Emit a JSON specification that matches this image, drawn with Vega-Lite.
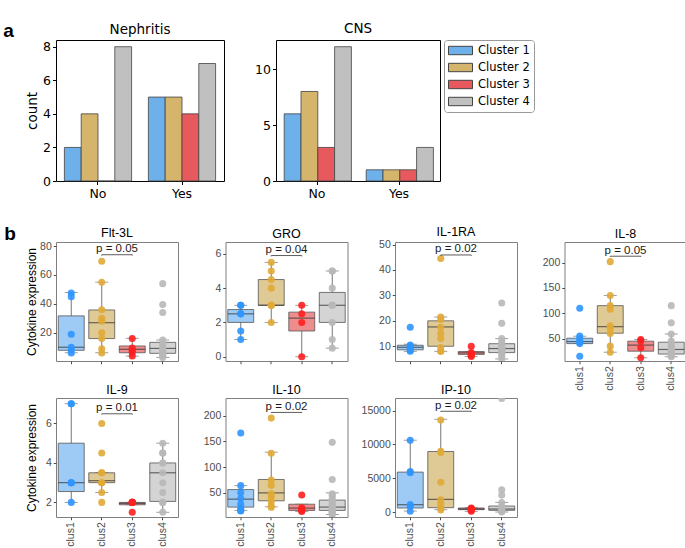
{
"$schema": "https://vega.github.io/schema/vega-lite/v6.json",
"background": "white",
"padding": {"left": 3, "top": 21, "right": 0, "bottom": 0},
"config": {
  "view": {"stroke": "#7f7f7f", "strokeWidth": 1},
  "axis": {"domain": false, "grid": false, "labelOverlap": false, "labelFont": "Liberation Sans", "labelFontSize": 10.5, "labelColor": "#4d4d4d", "tickColor": "#4d4d4d", "tickSize": 2.75, "labelPadding": 2, "titleFont": "Liberation Sans", "titleFontSize": 12, "titleFontWeight": "normal", "titleColor": "black", "titlePadding": 2},
  "axisX": {"labelAngle": -90},
  "title": {"font": "Liberation Sans", "fontSize": 12.5, "fontWeight": "normal", "color": "black", "offset": 1.5}
},
"datasets": {
  "bars": [
    {"var": "Nephritis", "grp": "No", "cluster": "Cluster 1", "count": 2},
    {"var": "Nephritis", "grp": "No", "cluster": "Cluster 2", "count": 4},
    {"var": "Nephritis", "grp": "No", "cluster": "Cluster 3", "count": 0},
    {"var": "Nephritis", "grp": "No", "cluster": "Cluster 4", "count": 8},
    {"var": "Nephritis", "grp": "Yes", "cluster": "Cluster 1", "count": 5},
    {"var": "Nephritis", "grp": "Yes", "cluster": "Cluster 2", "count": 5},
    {"var": "Nephritis", "grp": "Yes", "cluster": "Cluster 3", "count": 4},
    {"var": "Nephritis", "grp": "Yes", "cluster": "Cluster 4", "count": 7},
    {"var": "CNS", "grp": "No", "cluster": "Cluster 1", "count": 6},
    {"var": "CNS", "grp": "No", "cluster": "Cluster 2", "count": 8},
    {"var": "CNS", "grp": "No", "cluster": "Cluster 3", "count": 3},
    {"var": "CNS", "grp": "No", "cluster": "Cluster 4", "count": 12},
    {"var": "CNS", "grp": "Yes", "cluster": "Cluster 1", "count": 1},
    {"var": "CNS", "grp": "Yes", "cluster": "Cluster 2", "count": 1},
    {"var": "CNS", "grp": "Yes", "cluster": "Cluster 3", "count": 1},
    {"var": "CNS", "grp": "Yes", "cluster": "Cluster 4", "count": 3}
  ],
  "boxes": [
    {"panel": "Flt-3L", "cluster": "clus1", "lower": 6.2, "q1": 7.9, "median": 10, "q3": 31.7, "upper": 47.9},
    {"panel": "Flt-3L", "cluster": "clus2", "lower": 6.2, "q1": 16, "median": 27, "q3": 35.8, "upper": 55},
    {"panel": "Flt-3L", "cluster": "clus3", "lower": 3.9, "q1": 6.2, "median": 8.6, "q3": 10.9, "upper": 16.2},
    {"panel": "Flt-3L", "cluster": "clus4", "lower": 3, "q1": 5.8, "median": 9.2, "q3": 13.4, "upper": 15},
    {"panel": "GRO", "cluster": "clus1", "lower": 1, "q1": 2, "median": 2.5, "q3": 2.75, "upper": 3},
    {"panel": "GRO", "cluster": "clus2", "lower": 2, "q1": 3, "median": 3, "q3": 4.5, "upper": 5.5},
    {"panel": "GRO", "cluster": "clus3", "lower": 0, "q1": 1.5, "median": 2.25, "q3": 2.6, "upper": 3},
    {"panel": "GRO", "cluster": "clus4", "lower": 0.5, "q1": 2, "median": 3, "q3": 3.75, "upper": 5},
    {"panel": "IL-1RA", "cluster": "clus1", "lower": 8, "q1": 8.6, "median": 9.6, "q3": 10.4, "upper": 10.8},
    {"panel": "IL-1RA", "cluster": "clus2", "lower": 8, "q1": 10, "median": 17.6, "q3": 20, "upper": 21.5},
    {"panel": "IL-1RA", "cluster": "clus3", "lower": 6, "q1": 6.8, "median": 7.4, "q3": 7.9, "upper": 7.9},
    {"panel": "IL-1RA", "cluster": "clus4", "lower": 5, "q1": 7.5, "median": 9.1, "q3": 11, "upper": 13},
    {"panel": "IL-8", "cluster": "clus1", "lower": 40, "q1": 40, "median": 44, "q3": 50.6, "upper": 54.6},
    {"panel": "IL-8", "cluster": "clus2", "lower": 23, "q1": 60.5, "median": 73.5, "q3": 115, "upper": 135},
    {"panel": "IL-8", "cluster": "clus3", "lower": 12, "q1": 25, "median": 37, "q3": 44.8, "upper": 48},
    {"panel": "IL-8", "cluster": "clus4", "lower": 14, "q1": 19.3, "median": 28.4, "q3": 42.8, "upper": 59},
    {"panel": "IL-9", "cluster": "clus1", "lower": 2, "q1": 2.55, "median": 3, "q3": 5, "upper": 7},
    {"panel": "IL-9", "cluster": "clus2", "lower": 2.5, "q1": 3, "median": 3.1, "q3": 3.5, "upper": 3.5},
    {"panel": "IL-9", "cluster": "clus3", "lower": 1.88, "q1": 1.88, "median": 1.95, "q3": 2, "upper": 2},
    {"panel": "IL-9", "cluster": "clus4", "lower": 1.5, "q1": 2.05, "median": 3.5, "q3": 4, "upper": 5},
    {"panel": "IL-10", "cluster": "clus1", "lower": 16, "q1": 22.4, "median": 37.8, "q3": 56.4, "upper": 64},
    {"panel": "IL-10", "cluster": "clus2", "lower": 23, "q1": 34.6, "median": 50, "q3": 76, "upper": 129},
    {"panel": "IL-10", "cluster": "clus3", "lower": 14, "q1": 16, "median": 20.5, "q3": 28, "upper": 28},
    {"panel": "IL-10", "cluster": "clus4", "lower": 8, "q1": 16, "median": 22.4, "q3": 36, "upper": 50},
    {"panel": "IP-10", "cluster": "clus1", "lower": 148, "q1": 590, "median": 1082, "q3": 5904, "upper": 10627},
    {"panel": "IP-10", "cluster": "clus2", "lower": 344, "q1": 640, "median": 1870, "q3": 8954, "upper": 13727},
    {"panel": "IP-10", "cluster": "clus3", "lower": 100, "q1": 350, "median": 450, "q3": 590, "upper": 640},
    {"panel": "IP-10", "cluster": "clus4", "lower": 0, "q1": 246, "median": 443, "q3": 886, "upper": 1427}
  ],
  "points": [
    {"panel": "Flt-3L", "cluster": "clus1", "value": 47.5},
    {"panel": "Flt-3L", "cluster": "clus1", "value": 45},
    {"panel": "Flt-3L", "cluster": "clus1", "value": 19},
    {"panel": "Flt-3L", "cluster": "clus1", "value": 10},
    {"panel": "Flt-3L", "cluster": "clus1", "value": 8},
    {"panel": "Flt-3L", "cluster": "clus1", "value": 6},
    {"panel": "Flt-3L", "cluster": "clus2", "value": 69.5},
    {"panel": "Flt-3L", "cluster": "clus2", "value": 55},
    {"panel": "Flt-3L", "cluster": "clus2", "value": 36},
    {"panel": "Flt-3L", "cluster": "clus2", "value": 30},
    {"panel": "Flt-3L", "cluster": "clus2", "value": 28},
    {"panel": "Flt-3L", "cluster": "clus2", "value": 20},
    {"panel": "Flt-3L", "cluster": "clus2", "value": 16},
    {"panel": "Flt-3L", "cluster": "clus2", "value": 9},
    {"panel": "Flt-3L", "cluster": "clus2", "value": 6},
    {"panel": "Flt-3L", "cluster": "clus3", "value": 16},
    {"panel": "Flt-3L", "cluster": "clus3", "value": 9.5},
    {"panel": "Flt-3L", "cluster": "clus3", "value": 8},
    {"panel": "Flt-3L", "cluster": "clus3", "value": 6.5},
    {"panel": "Flt-3L", "cluster": "clus3", "value": 4},
    {"panel": "Flt-3L", "cluster": "clus4", "value": 54},
    {"panel": "Flt-3L", "cluster": "clus4", "value": 39.5},
    {"panel": "Flt-3L", "cluster": "clus4", "value": 34},
    {"panel": "Flt-3L", "cluster": "clus4", "value": 15},
    {"panel": "Flt-3L", "cluster": "clus4", "value": 12},
    {"panel": "Flt-3L", "cluster": "clus4", "value": 10},
    {"panel": "Flt-3L", "cluster": "clus4", "value": 9},
    {"panel": "Flt-3L", "cluster": "clus4", "value": 8},
    {"panel": "Flt-3L", "cluster": "clus4", "value": 7},
    {"panel": "Flt-3L", "cluster": "clus4", "value": 6},
    {"panel": "Flt-3L", "cluster": "clus4", "value": 5},
    {"panel": "Flt-3L", "cluster": "clus4", "value": 4},
    {"panel": "Flt-3L", "cluster": "clus4", "value": 3},
    {"panel": "GRO", "cluster": "clus1", "value": 3},
    {"panel": "GRO", "cluster": "clus1", "value": 3},
    {"panel": "GRO", "cluster": "clus1", "value": 2.5},
    {"panel": "GRO", "cluster": "clus1", "value": 2.5},
    {"panel": "GRO", "cluster": "clus1", "value": 1.5},
    {"panel": "GRO", "cluster": "clus1", "value": 1},
    {"panel": "GRO", "cluster": "clus2", "value": 5.5},
    {"panel": "GRO", "cluster": "clus2", "value": 5},
    {"panel": "GRO", "cluster": "clus2", "value": 4.5},
    {"panel": "GRO", "cluster": "clus2", "value": 4},
    {"panel": "GRO", "cluster": "clus2", "value": 3},
    {"panel": "GRO", "cluster": "clus2", "value": 3},
    {"panel": "GRO", "cluster": "clus2", "value": 3},
    {"panel": "GRO", "cluster": "clus2", "value": 2},
    {"panel": "GRO", "cluster": "clus3", "value": 3},
    {"panel": "GRO", "cluster": "clus3", "value": 2.5},
    {"panel": "GRO", "cluster": "clus3", "value": 2},
    {"panel": "GRO", "cluster": "clus3", "value": 0},
    {"panel": "GRO", "cluster": "clus4", "value": 5},
    {"panel": "GRO", "cluster": "clus4", "value": 5},
    {"panel": "GRO", "cluster": "clus4", "value": 4},
    {"panel": "GRO", "cluster": "clus4", "value": 3},
    {"panel": "GRO", "cluster": "clus4", "value": 3},
    {"panel": "GRO", "cluster": "clus4", "value": 3},
    {"panel": "GRO", "cluster": "clus4", "value": 2},
    {"panel": "GRO", "cluster": "clus4", "value": 1},
    {"panel": "GRO", "cluster": "clus4", "value": 0.5},
    {"panel": "IL-1RA", "cluster": "clus1", "value": 17.5},
    {"panel": "IL-1RA", "cluster": "clus1", "value": 10.5},
    {"panel": "IL-1RA", "cluster": "clus1", "value": 10},
    {"panel": "IL-1RA", "cluster": "clus1", "value": 9.5},
    {"panel": "IL-1RA", "cluster": "clus1", "value": 9},
    {"panel": "IL-1RA", "cluster": "clus1", "value": 8.5},
    {"panel": "IL-1RA", "cluster": "clus1", "value": 8},
    {"panel": "IL-1RA", "cluster": "clus2", "value": 44.5},
    {"panel": "IL-1RA", "cluster": "clus2", "value": 21.5},
    {"panel": "IL-1RA", "cluster": "clus2", "value": 20.5},
    {"panel": "IL-1RA", "cluster": "clus2", "value": 17.5},
    {"panel": "IL-1RA", "cluster": "clus2", "value": 15},
    {"panel": "IL-1RA", "cluster": "clus2", "value": 13},
    {"panel": "IL-1RA", "cluster": "clus2", "value": 9.5},
    {"panel": "IL-1RA", "cluster": "clus2", "value": 8},
    {"panel": "IL-1RA", "cluster": "clus2", "value": 8},
    {"panel": "IL-1RA", "cluster": "clus3", "value": 10},
    {"panel": "IL-1RA", "cluster": "clus3", "value": 7.5},
    {"panel": "IL-1RA", "cluster": "clus3", "value": 7},
    {"panel": "IL-1RA", "cluster": "clus3", "value": 6.5},
    {"panel": "IL-1RA", "cluster": "clus3", "value": 6},
    {"panel": "IL-1RA", "cluster": "clus4", "value": 27},
    {"panel": "IL-1RA", "cluster": "clus4", "value": 19},
    {"panel": "IL-1RA", "cluster": "clus4", "value": 13},
    {"panel": "IL-1RA", "cluster": "clus4", "value": 12},
    {"panel": "IL-1RA", "cluster": "clus4", "value": 11},
    {"panel": "IL-1RA", "cluster": "clus4", "value": 10},
    {"panel": "IL-1RA", "cluster": "clus4", "value": 9.5},
    {"panel": "IL-1RA", "cluster": "clus4", "value": 9},
    {"panel": "IL-1RA", "cluster": "clus4", "value": 8.5},
    {"panel": "IL-1RA", "cluster": "clus4", "value": 8},
    {"panel": "IL-1RA", "cluster": "clus4", "value": 7.5},
    {"panel": "IL-1RA", "cluster": "clus4", "value": 7},
    {"panel": "IL-1RA", "cluster": "clus4", "value": 6},
    {"panel": "IL-1RA", "cluster": "clus4", "value": 5},
    {"panel": "IL-8", "cluster": "clus1", "value": 110},
    {"panel": "IL-8", "cluster": "clus1", "value": 55},
    {"panel": "IL-8", "cluster": "clus1", "value": 50},
    {"panel": "IL-8", "cluster": "clus1", "value": 45},
    {"panel": "IL-8", "cluster": "clus1", "value": 42},
    {"panel": "IL-8", "cluster": "clus1", "value": 40},
    {"panel": "IL-8", "cluster": "clus1", "value": 15},
    {"panel": "IL-8", "cluster": "clus2", "value": 202},
    {"panel": "IL-8", "cluster": "clus2", "value": 135},
    {"panel": "IL-8", "cluster": "clus2", "value": 115},
    {"panel": "IL-8", "cluster": "clus2", "value": 108},
    {"panel": "IL-8", "cluster": "clus2", "value": 75},
    {"panel": "IL-8", "cluster": "clus2", "value": 70},
    {"panel": "IL-8", "cluster": "clus2", "value": 60},
    {"panel": "IL-8", "cluster": "clus2", "value": 35},
    {"panel": "IL-8", "cluster": "clus2", "value": 23},
    {"panel": "IL-8", "cluster": "clus3", "value": 48},
    {"panel": "IL-8", "cluster": "clus3", "value": 45},
    {"panel": "IL-8", "cluster": "clus3", "value": 32},
    {"panel": "IL-8", "cluster": "clus3", "value": 12},
    {"panel": "IL-8", "cluster": "clus4", "value": 115},
    {"panel": "IL-8", "cluster": "clus4", "value": 81},
    {"panel": "IL-8", "cluster": "clus4", "value": 59},
    {"panel": "IL-8", "cluster": "clus4", "value": 45},
    {"panel": "IL-8", "cluster": "clus4", "value": 40},
    {"panel": "IL-8", "cluster": "clus4", "value": 36},
    {"panel": "IL-8", "cluster": "clus4", "value": 32},
    {"panel": "IL-8", "cluster": "clus4", "value": 28},
    {"panel": "IL-8", "cluster": "clus4", "value": 25},
    {"panel": "IL-8", "cluster": "clus4", "value": 22},
    {"panel": "IL-8", "cluster": "clus4", "value": 20},
    {"panel": "IL-8", "cluster": "clus4", "value": 18},
    {"panel": "IL-8", "cluster": "clus4", "value": 16},
    {"panel": "IL-8", "cluster": "clus4", "value": 14},
    {"panel": "IL-9", "cluster": "clus1", "value": 7},
    {"panel": "IL-9", "cluster": "clus1", "value": 7},
    {"panel": "IL-9", "cluster": "clus1", "value": 3},
    {"panel": "IL-9", "cluster": "clus1", "value": 3},
    {"panel": "IL-9", "cluster": "clus1", "value": 3},
    {"panel": "IL-9", "cluster": "clus1", "value": 2},
    {"panel": "IL-9", "cluster": "clus2", "value": 6},
    {"panel": "IL-9", "cluster": "clus2", "value": 4.5},
    {"panel": "IL-9", "cluster": "clus2", "value": 3.5},
    {"panel": "IL-9", "cluster": "clus2", "value": 3.5},
    {"panel": "IL-9", "cluster": "clus2", "value": 3},
    {"panel": "IL-9", "cluster": "clus2", "value": 3},
    {"panel": "IL-9", "cluster": "clus2", "value": 2.5},
    {"panel": "IL-9", "cluster": "clus2", "value": 2},
    {"panel": "IL-9", "cluster": "clus3", "value": 2},
    {"panel": "IL-9", "cluster": "clus3", "value": 2},
    {"panel": "IL-9", "cluster": "clus3", "value": 2},
    {"panel": "IL-9", "cluster": "clus3", "value": 2},
    {"panel": "IL-9", "cluster": "clus3", "value": 1.5},
    {"panel": "IL-9", "cluster": "clus4", "value": 5},
    {"panel": "IL-9", "cluster": "clus4", "value": 4.5},
    {"panel": "IL-9", "cluster": "clus4", "value": 4.5},
    {"panel": "IL-9", "cluster": "clus4", "value": 4},
    {"panel": "IL-9", "cluster": "clus4", "value": 4},
    {"panel": "IL-9", "cluster": "clus4", "value": 3.5},
    {"panel": "IL-9", "cluster": "clus4", "value": 3},
    {"panel": "IL-9", "cluster": "clus4", "value": 2.5},
    {"panel": "IL-9", "cluster": "clus4", "value": 2},
    {"panel": "IL-9", "cluster": "clus4", "value": 2},
    {"panel": "IL-9", "cluster": "clus4", "value": 1.5},
    {"panel": "IL-10", "cluster": "clus1", "value": 166},
    {"panel": "IL-10", "cluster": "clus1", "value": 64},
    {"panel": "IL-10", "cluster": "clus1", "value": 50},
    {"panel": "IL-10", "cluster": "clus1", "value": 39},
    {"panel": "IL-10", "cluster": "clus1", "value": 28},
    {"panel": "IL-10", "cluster": "clus1", "value": 20},
    {"panel": "IL-10", "cluster": "clus1", "value": 16},
    {"panel": "IL-10", "cluster": "clus1", "value": 15},
    {"panel": "IL-10", "cluster": "clus2", "value": 195},
    {"panel": "IL-10", "cluster": "clus2", "value": 127},
    {"panel": "IL-10", "cluster": "clus2", "value": 75},
    {"panel": "IL-10", "cluster": "clus2", "value": 65},
    {"panel": "IL-10", "cluster": "clus2", "value": 48},
    {"panel": "IL-10", "cluster": "clus2", "value": 42},
    {"panel": "IL-10", "cluster": "clus2", "value": 33},
    {"panel": "IL-10", "cluster": "clus2", "value": 25},
    {"panel": "IL-10", "cluster": "clus2", "value": 22},
    {"panel": "IL-10", "cluster": "clus3", "value": 46},
    {"panel": "IL-10", "cluster": "clus3", "value": 21},
    {"panel": "IL-10", "cluster": "clus3", "value": 18},
    {"panel": "IL-10", "cluster": "clus3", "value": 16},
    {"panel": "IL-10", "cluster": "clus3", "value": 14},
    {"panel": "IL-10", "cluster": "clus4", "value": 148},
    {"panel": "IL-10", "cluster": "clus4", "value": 76},
    {"panel": "IL-10", "cluster": "clus4", "value": 48},
    {"panel": "IL-10", "cluster": "clus4", "value": 45},
    {"panel": "IL-10", "cluster": "clus4", "value": 40},
    {"panel": "IL-10", "cluster": "clus4", "value": 35},
    {"panel": "IL-10", "cluster": "clus4", "value": 30},
    {"panel": "IL-10", "cluster": "clus4", "value": 26},
    {"panel": "IL-10", "cluster": "clus4", "value": 24},
    {"panel": "IL-10", "cluster": "clus4", "value": 22},
    {"panel": "IL-10", "cluster": "clus4", "value": 20},
    {"panel": "IL-10", "cluster": "clus4", "value": 18},
    {"panel": "IL-10", "cluster": "clus4", "value": 16},
    {"panel": "IL-10", "cluster": "clus4", "value": 14},
    {"panel": "IL-10", "cluster": "clus4", "value": 12},
    {"panel": "IL-10", "cluster": "clus4", "value": 10},
    {"panel": "IL-10", "cluster": "clus4", "value": 8},
    {"panel": "IP-10", "cluster": "clus1", "value": 10600},
    {"panel": "IP-10", "cluster": "clus1", "value": 6000},
    {"panel": "IP-10", "cluster": "clus1", "value": 5800},
    {"panel": "IP-10", "cluster": "clus1", "value": 1100},
    {"panel": "IP-10", "cluster": "clus1", "value": 800},
    {"panel": "IP-10", "cluster": "clus1", "value": 100},
    {"panel": "IP-10", "cluster": "clus2", "value": 13600},
    {"panel": "IP-10", "cluster": "clus2", "value": 9000},
    {"panel": "IP-10", "cluster": "clus2", "value": 8800},
    {"panel": "IP-10", "cluster": "clus2", "value": 4400},
    {"panel": "IP-10", "cluster": "clus2", "value": 1800},
    {"panel": "IP-10", "cluster": "clus2", "value": 1200},
    {"panel": "IP-10", "cluster": "clus2", "value": 600},
    {"panel": "IP-10", "cluster": "clus2", "value": 300},
    {"panel": "IP-10", "cluster": "clus3", "value": 600},
    {"panel": "IP-10", "cluster": "clus3", "value": 500},
    {"panel": "IP-10", "cluster": "clus3", "value": 400},
    {"panel": "IP-10", "cluster": "clus3", "value": 300},
    {"panel": "IP-10", "cluster": "clus3", "value": 100},
    {"panel": "IP-10", "cluster": "clus4", "value": 16800},
    {"panel": "IP-10", "cluster": "clus4", "value": 3300},
    {"panel": "IP-10", "cluster": "clus4", "value": 2500},
    {"panel": "IP-10", "cluster": "clus4", "value": 1400},
    {"panel": "IP-10", "cluster": "clus4", "value": 800},
    {"panel": "IP-10", "cluster": "clus4", "value": 600},
    {"panel": "IP-10", "cluster": "clus4", "value": 400},
    {"panel": "IP-10", "cluster": "clus4", "value": 300},
    {"panel": "IP-10", "cluster": "clus4", "value": 200},
    {"panel": "IP-10", "cluster": "clus4", "value": 100},
    {"panel": "IP-10", "cluster": "clus4", "value": 0}
  ],
  "pvals": [
    {"panel": "Flt-3L", "label": "p = 0.05", "c1": "clus2", "c2": "clus3", "y": 74, "ylo": 73.4},
    {"panel": "GRO", "label": "p = 0.04", "c1": "clus2", "c2": "clus3", "y": 5.9, "ylo": 5.85},
    {"panel": "IL-1RA", "label": "p = 0.02", "c1": "clus2", "c2": "clus3", "y": 45.9, "ylo": 45.6},
    {"panel": "IL-8", "label": "p = 0.05", "c1": "clus2", "c2": "clus3", "y": 212.7, "ylo": 211.3},
    {"panel": "IL-9", "label": "p = 0.01", "c1": "clus2", "c2": "clus3", "y": 6.49, "ylo": 6.45},
    {"panel": "IL-10", "label": "p = 0.02", "c1": "clus2", "c2": "clus3", "y": 206, "ylo": 204.7},
    {"panel": "IP-10", "label": "p = 0.02", "c1": "clus2", "c2": "clus3", "y": 14908, "ylo": 14810}
  ]
},
"resolve": {"scale": {"color": "independent", "fill": "independent"}},
"spacing": 25,
"vconcat": [
  {
    "title": {"text": "a", "orient": "left", "anchor": "end", "angle": 0, "align": "right", "baseline": "top", "font": "Liberation Sans", "fontSize": 19, "fontWeight": "bold", "color": "black", "offset": 0},
    "spacing": 28,
    "resolve": {"legend": {"color": "independent"}},
    "hconcat": [
      {
        "width": 168, "height": 141,
        "view": {"stroke": "black", "strokeWidth": 1},
        "title": {"text": "Nephritis", "font": "DejaVu Sans", "fontSize": 13.5, "offset": 4},
        "data": {"name": "bars"},
        "transform": [{"filter": "datum.var === 'Nephritis'"}],
        "mark": {"type": "bar", "stroke": "#444444", "strokeWidth": 1, "strokeOpacity": 0.8},
        "encoding": {
          "x": {"field": "grp", "type": "nominal", "title": null, "scale": {"domain": ["No", "Yes"], "paddingInner": 0.2, "paddingOuter": 0.1}, "axis": {"labelAngle": 0, "labelFont": "DejaVu Sans", "labelFontSize": 12.5, "labelColor": "black", "tickColor": "black", "tickSize": 3.5, "labelPadding": 2.5}},
          "xOffset": {"field": "cluster", "type": "nominal", "scale": {"domain": ["Cluster 1", "Cluster 2", "Cluster 3", "Cluster 4"], "paddingInner": 0, "paddingOuter": 0}},
          "y": {"field": "count", "type": "quantitative", "scale": {"domain": [0, 8.4], "nice": false}, "axis": {"values": [0, 2, 4, 6, 8], "tickCount": 10, "format": "d", "title": "count", "minExtent": 13, "maxExtent": 13, "labelFont": "DejaVu Sans", "labelFontSize": 12.5, "labelColor": "black", "tickColor": "black", "tickSize": 3.5, "labelPadding": 2, "titleFont": "DejaVu Sans", "titleFontSize": 13.5, "titleColor": "black", "titlePadding": 4}},
          "color": {"field": "cluster", "type": "nominal", "scale": {"domain": ["Cluster 1", "Cluster 2", "Cluster 3", "Cluster 4"], "range": ["#6EB1EA", "#D5B56B", "#E8595D", "#C0C0C0"]}, "legend": null}
        }
      },
      {
        "width": 164, "height": 141,
        "view": {"stroke": "black", "strokeWidth": 1},
        "title": {"text": "CNS", "font": "DejaVu Sans", "fontSize": 13.5, "offset": 4},
        "data": {"name": "bars"},
        "transform": [{"filter": "datum.var === 'CNS'"}],
        "mark": {"type": "bar", "stroke": "#444444", "strokeWidth": 1, "strokeOpacity": 0.8},
        "encoding": {
          "x": {"field": "grp", "type": "nominal", "title": null, "scale": {"domain": ["No", "Yes"], "paddingInner": 0.2, "paddingOuter": 0.1}, "axis": {"labelAngle": 0, "labelFont": "DejaVu Sans", "labelFontSize": 12.5, "labelColor": "black", "tickColor": "black", "tickSize": 3.5, "labelPadding": 2.5}},
          "xOffset": {"field": "cluster", "type": "nominal", "scale": {"domain": ["Cluster 1", "Cluster 2", "Cluster 3", "Cluster 4"], "paddingInner": 0, "paddingOuter": 0}},
          "y": {"field": "count", "type": "quantitative", "scale": {"domain": [0, 12.6], "nice": false}, "axis": {"values": [0, 5, 10], "tickCount": 10, "format": "d", "title": null, "minExtent": 22, "maxExtent": 22, "labelFont": "DejaVu Sans", "labelFontSize": 12.5, "labelColor": "black", "tickColor": "black", "tickSize": 3.5, "labelPadding": 2}},
          "color": {"field": "cluster", "type": "nominal", "scale": {"domain": ["Cluster 1", "Cluster 2", "Cluster 3", "Cluster 4"], "range": ["#6EB1EA", "#D5B56B", "#E8595D", "#C0C0C0"]}, "legend": {"orient": "right", "offset": 4, "title": null, "symbolType": "M-2,-0.7H2V0.7H-2Z", "symbolSize": 144, "symbolOffset": 6, "symbolStrokeColor": "#444444", "symbolStrokeWidth": 1, "symbolOpacity": 1, "labelFont": "DejaVu Sans", "labelFontSize": 11.5, "labelColor": "black", "labelOffset": 11, "rowPadding": 4, "padding": 4, "strokeColor": "#999999", "cornerRadius": 3, "fillColor": "white"}}
        }
      }
    ]
  },
  {
    "title": {"text": "b", "orient": "left", "anchor": "end", "angle": 0, "align": "right", "baseline": "top", "font": "Liberation Sans", "fontSize": 19, "fontWeight": "bold", "color": "black", "offset": -3},
    "spacing": 10.5,
    "hconcat": [
      {"spacing": 18, "vconcat": [
        {"width": 122, "height": 119, "title": {"text": "Flt-3L"}, "layer": [
          {"data": {"name": "boxes"}, "transform": [{"filter": "datum.panel === 'Flt-3L'"}], "mark": {"type": "rule", "color": "#666666", "strokeWidth": 0.9},
           "encoding": {"x": {"field": "cluster", "type": "nominal", "title": null, "scale": {"domain": ["clus1", "clus2", "clus3", "clus4"], "paddingInner": 0, "paddingOuter": 0}, "axis": {"labels": false}},
                        "y": {"field": "lower", "type": "quantitative", "title": "Cytokine expression", "scale": {"domain": [0.5, 82.8], "nice": false, "zero": false}, "axis": {"values": [20, 40, 60, 80], "tickCount": 10, "format": "d", "minExtent": 16, "maxExtent": 16}},
                        "y2": {"field": "upper"}}},
          {"data": {"name": "boxes"}, "transform": [{"filter": "datum.panel === 'Flt-3L'"}, {"fold": ["lower", "upper"], "as": ["end", "cap"]}], "mark": {"type": "tick", "color": "#666666", "size": 13, "thickness": 0.9},
           "encoding": {"x": {"field": "cluster", "type": "nominal"}, "y": {"field": "cap", "type": "quantitative"}}},
          {"data": {"name": "boxes"}, "transform": [{"filter": "datum.panel === 'Flt-3L'"}], "mark": {"type": "bar", "width": {"band": 0.85}, "stroke": "#555555", "strokeWidth": 0.8},
           "encoding": {"x": {"field": "cluster", "type": "nominal"}, "y": {"field": "q1", "type": "quantitative"}, "y2": {"field": "q3"},
                        "fill": {"field": "cluster", "type": "nominal", "scale": {"domain": ["clus1", "clus2", "clus3", "clus4"], "range": ["#9ECBF5", "#DFC995", "#EE8D8D", "#D4D4D4"]}, "legend": null}}},
          {"data": {"name": "boxes"}, "transform": [{"filter": "datum.panel === 'Flt-3L'"}], "mark": {"type": "tick", "color": "#333333", "size": 26, "thickness": 1.2},
           "encoding": {"x": {"field": "cluster", "type": "nominal"}, "y": {"field": "median", "type": "quantitative"}}},
          {"data": {"name": "points"}, "transform": [{"filter": "datum.panel === 'Flt-3L'"}], "mark": {"type": "point", "filled": true, "size": 50, "opacity": 0.9, "clip": true},
           "encoding": {"x": {"field": "cluster", "type": "nominal"}, "y": {"field": "value", "type": "quantitative"},
                        "color": {"field": "cluster", "type": "nominal", "scale": {"domain": ["clus1", "clus2", "clus3", "clus4"], "range": ["#2F96FF", "#E1AA36", "#FF1F1F", "#B8B8B8"]}, "legend": null}}},
          {"data": {"name": "pvals"}, "transform": [{"filter": "datum.panel === 'Flt-3L'"}], "mark": {"type": "rule", "color": "#333333", "strokeWidth": 0.8},
           "encoding": {"x": {"field": "c1", "type": "nominal"}, "x2": {"field": "c2"}, "y": {"field": "y", "type": "quantitative"}}},
          {"data": {"name": "pvals"}, "transform": [{"filter": "datum.panel === 'Flt-3L'"}, {"fold": ["c1", "c2"], "as": ["side", "cx"]}], "mark": {"type": "rule", "color": "#333333", "strokeWidth": 0.8},
           "encoding": {"x": {"field": "cx", "type": "nominal"}, "y": {"field": "y", "type": "quantitative"}, "y2": {"field": "ylo"}}},
          {"data": {"name": "pvals"}, "transform": [{"filter": "datum.panel === 'Flt-3L'"}], "mark": {"type": "text", "font": "Liberation Sans", "fontSize": 11.5, "baseline": "alphabetic", "dy": -2.5, "color": "#1a1a1a"},
           "encoding": {"x": {"field": "c1", "type": "nominal", "bandPosition": 1}, "y": {"field": "y", "type": "quantitative"}, "text": {"field": "label"}}}
        ]},
        {"width": 122, "height": 119, "title": {"text": "IL-9"}, "layer": [
          {"data": {"name": "boxes"}, "transform": [{"filter": "datum.panel === 'IL-9'"}], "mark": {"type": "rule", "color": "#666666", "strokeWidth": 0.9},
           "encoding": {"x": {"field": "cluster", "type": "nominal", "title": null, "scale": {"domain": ["clus1", "clus2", "clus3", "clus4"], "paddingInner": 0, "paddingOuter": 0}, "axis": {"labels": true}},
                        "y": {"field": "lower", "type": "quantitative", "title": "Cytokine expression", "scale": {"domain": [1.26, 7.29], "nice": false, "zero": false}, "axis": {"values": [2, 4, 6], "tickCount": 10, "format": "d", "minExtent": 16, "maxExtent": 16}},
                        "y2": {"field": "upper"}}},
          {"data": {"name": "boxes"}, "transform": [{"filter": "datum.panel === 'IL-9'"}, {"fold": ["lower", "upper"], "as": ["end", "cap"]}], "mark": {"type": "tick", "color": "#666666", "size": 13, "thickness": 0.9},
           "encoding": {"x": {"field": "cluster", "type": "nominal"}, "y": {"field": "cap", "type": "quantitative"}}},
          {"data": {"name": "boxes"}, "transform": [{"filter": "datum.panel === 'IL-9'"}], "mark": {"type": "bar", "width": {"band": 0.85}, "stroke": "#555555", "strokeWidth": 0.8},
           "encoding": {"x": {"field": "cluster", "type": "nominal"}, "y": {"field": "q1", "type": "quantitative"}, "y2": {"field": "q3"},
                        "fill": {"field": "cluster", "type": "nominal", "scale": {"domain": ["clus1", "clus2", "clus3", "clus4"], "range": ["#9ECBF5", "#DFC995", "#EE8D8D", "#D4D4D4"]}, "legend": null}}},
          {"data": {"name": "boxes"}, "transform": [{"filter": "datum.panel === 'IL-9'"}], "mark": {"type": "tick", "color": "#333333", "size": 26, "thickness": 1.2},
           "encoding": {"x": {"field": "cluster", "type": "nominal"}, "y": {"field": "median", "type": "quantitative"}}},
          {"data": {"name": "points"}, "transform": [{"filter": "datum.panel === 'IL-9'"}], "mark": {"type": "point", "filled": true, "size": 50, "opacity": 0.9, "clip": true},
           "encoding": {"x": {"field": "cluster", "type": "nominal"}, "y": {"field": "value", "type": "quantitative"},
                        "color": {"field": "cluster", "type": "nominal", "scale": {"domain": ["clus1", "clus2", "clus3", "clus4"], "range": ["#2F96FF", "#E1AA36", "#FF1F1F", "#B8B8B8"]}, "legend": null}}},
          {"data": {"name": "pvals"}, "transform": [{"filter": "datum.panel === 'IL-9'"}], "mark": {"type": "rule", "color": "#333333", "strokeWidth": 0.8},
           "encoding": {"x": {"field": "c1", "type": "nominal"}, "x2": {"field": "c2"}, "y": {"field": "y", "type": "quantitative"}}},
          {"data": {"name": "pvals"}, "transform": [{"filter": "datum.panel === 'IL-9'"}, {"fold": ["c1", "c2"], "as": ["side", "cx"]}], "mark": {"type": "rule", "color": "#333333", "strokeWidth": 0.8},
           "encoding": {"x": {"field": "cx", "type": "nominal"}, "y": {"field": "y", "type": "quantitative"}, "y2": {"field": "ylo"}}},
          {"data": {"name": "pvals"}, "transform": [{"filter": "datum.panel === 'IL-9'"}], "mark": {"type": "text", "font": "Liberation Sans", "fontSize": 11.5, "baseline": "alphabetic", "dy": -2.5, "color": "#1a1a1a"},
           "encoding": {"x": {"field": "c1", "type": "nominal", "bandPosition": 1}, "y": {"field": "y", "type": "quantitative"}, "text": {"field": "label"}}}
        ]}
      ]},
      {"spacing": 18, "vconcat": [
        {"width": 122, "height": 119, "title": {"text": "GRO"}, "layer": [
          {"data": {"name": "boxes"}, "transform": [{"filter": "datum.panel === 'GRO'"}], "mark": {"type": "rule", "color": "#666666", "strokeWidth": 0.9},
           "encoding": {"x": {"field": "cluster", "type": "nominal", "title": null, "scale": {"domain": ["clus1", "clus2", "clus3", "clus4"], "paddingInner": 0, "paddingOuter": 0}, "axis": {"labels": false}},
                        "y": {"field": "lower", "type": "quantitative", "title": null, "scale": {"domain": [-0.25, 6.69], "nice": false, "zero": false}, "axis": {"values": [0, 2, 4, 6], "tickCount": 10, "format": "d", "minExtent": 35, "maxExtent": 35}},
                        "y2": {"field": "upper"}}},
          {"data": {"name": "boxes"}, "transform": [{"filter": "datum.panel === 'GRO'"}, {"fold": ["lower", "upper"], "as": ["end", "cap"]}], "mark": {"type": "tick", "color": "#666666", "size": 13, "thickness": 0.9},
           "encoding": {"x": {"field": "cluster", "type": "nominal"}, "y": {"field": "cap", "type": "quantitative"}}},
          {"data": {"name": "boxes"}, "transform": [{"filter": "datum.panel === 'GRO'"}], "mark": {"type": "bar", "width": {"band": 0.85}, "stroke": "#555555", "strokeWidth": 0.8},
           "encoding": {"x": {"field": "cluster", "type": "nominal"}, "y": {"field": "q1", "type": "quantitative"}, "y2": {"field": "q3"},
                        "fill": {"field": "cluster", "type": "nominal", "scale": {"domain": ["clus1", "clus2", "clus3", "clus4"], "range": ["#9ECBF5", "#DFC995", "#EE8D8D", "#D4D4D4"]}, "legend": null}}},
          {"data": {"name": "boxes"}, "transform": [{"filter": "datum.panel === 'GRO'"}], "mark": {"type": "tick", "color": "#333333", "size": 26, "thickness": 1.2},
           "encoding": {"x": {"field": "cluster", "type": "nominal"}, "y": {"field": "median", "type": "quantitative"}}},
          {"data": {"name": "points"}, "transform": [{"filter": "datum.panel === 'GRO'"}], "mark": {"type": "point", "filled": true, "size": 50, "opacity": 0.9, "clip": true},
           "encoding": {"x": {"field": "cluster", "type": "nominal"}, "y": {"field": "value", "type": "quantitative"},
                        "color": {"field": "cluster", "type": "nominal", "scale": {"domain": ["clus1", "clus2", "clus3", "clus4"], "range": ["#2F96FF", "#E1AA36", "#FF1F1F", "#B8B8B8"]}, "legend": null}}},
          {"data": {"name": "pvals"}, "transform": [{"filter": "datum.panel === 'GRO'"}], "mark": {"type": "rule", "color": "#333333", "strokeWidth": 0.8},
           "encoding": {"x": {"field": "c1", "type": "nominal"}, "x2": {"field": "c2"}, "y": {"field": "y", "type": "quantitative"}}},
          {"data": {"name": "pvals"}, "transform": [{"filter": "datum.panel === 'GRO'"}, {"fold": ["c1", "c2"], "as": ["side", "cx"]}], "mark": {"type": "rule", "color": "#333333", "strokeWidth": 0.8},
           "encoding": {"x": {"field": "cx", "type": "nominal"}, "y": {"field": "y", "type": "quantitative"}, "y2": {"field": "ylo"}}},
          {"data": {"name": "pvals"}, "transform": [{"filter": "datum.panel === 'GRO'"}], "mark": {"type": "text", "font": "Liberation Sans", "fontSize": 11.5, "baseline": "alphabetic", "dy": -2.5, "color": "#1a1a1a"},
           "encoding": {"x": {"field": "c1", "type": "nominal", "bandPosition": 1}, "y": {"field": "y", "type": "quantitative"}, "text": {"field": "label"}}}
        ]},
        {"width": 122, "height": 119, "title": {"text": "IL-10"}, "layer": [
          {"data": {"name": "boxes"}, "transform": [{"filter": "datum.panel === 'IL-10'"}], "mark": {"type": "rule", "color": "#666666", "strokeWidth": 0.9},
           "encoding": {"x": {"field": "cluster", "type": "nominal", "title": null, "scale": {"domain": ["clus1", "clus2", "clus3", "clus4"], "paddingInner": 0, "paddingOuter": 0}, "axis": {"labels": true}},
                        "y": {"field": "lower", "type": "quantitative", "title": null, "scale": {"domain": [3.2, 234], "nice": false, "zero": false}, "axis": {"values": [50, 100, 150, 200], "tickCount": 10, "format": "d", "minExtent": 35, "maxExtent": 35}},
                        "y2": {"field": "upper"}}},
          {"data": {"name": "boxes"}, "transform": [{"filter": "datum.panel === 'IL-10'"}, {"fold": ["lower", "upper"], "as": ["end", "cap"]}], "mark": {"type": "tick", "color": "#666666", "size": 13, "thickness": 0.9},
           "encoding": {"x": {"field": "cluster", "type": "nominal"}, "y": {"field": "cap", "type": "quantitative"}}},
          {"data": {"name": "boxes"}, "transform": [{"filter": "datum.panel === 'IL-10'"}], "mark": {"type": "bar", "width": {"band": 0.85}, "stroke": "#555555", "strokeWidth": 0.8},
           "encoding": {"x": {"field": "cluster", "type": "nominal"}, "y": {"field": "q1", "type": "quantitative"}, "y2": {"field": "q3"},
                        "fill": {"field": "cluster", "type": "nominal", "scale": {"domain": ["clus1", "clus2", "clus3", "clus4"], "range": ["#9ECBF5", "#DFC995", "#EE8D8D", "#D4D4D4"]}, "legend": null}}},
          {"data": {"name": "boxes"}, "transform": [{"filter": "datum.panel === 'IL-10'"}], "mark": {"type": "tick", "color": "#333333", "size": 26, "thickness": 1.2},
           "encoding": {"x": {"field": "cluster", "type": "nominal"}, "y": {"field": "median", "type": "quantitative"}}},
          {"data": {"name": "points"}, "transform": [{"filter": "datum.panel === 'IL-10'"}], "mark": {"type": "point", "filled": true, "size": 50, "opacity": 0.9, "clip": true},
           "encoding": {"x": {"field": "cluster", "type": "nominal"}, "y": {"field": "value", "type": "quantitative"},
                        "color": {"field": "cluster", "type": "nominal", "scale": {"domain": ["clus1", "clus2", "clus3", "clus4"], "range": ["#2F96FF", "#E1AA36", "#FF1F1F", "#B8B8B8"]}, "legend": null}}},
          {"data": {"name": "pvals"}, "transform": [{"filter": "datum.panel === 'IL-10'"}], "mark": {"type": "rule", "color": "#333333", "strokeWidth": 0.8},
           "encoding": {"x": {"field": "c1", "type": "nominal"}, "x2": {"field": "c2"}, "y": {"field": "y", "type": "quantitative"}}},
          {"data": {"name": "pvals"}, "transform": [{"filter": "datum.panel === 'IL-10'"}, {"fold": ["c1", "c2"], "as": ["side", "cx"]}], "mark": {"type": "rule", "color": "#333333", "strokeWidth": 0.8},
           "encoding": {"x": {"field": "cx", "type": "nominal"}, "y": {"field": "y", "type": "quantitative"}, "y2": {"field": "ylo"}}},
          {"data": {"name": "pvals"}, "transform": [{"filter": "datum.panel === 'IL-10'"}], "mark": {"type": "text", "font": "Liberation Sans", "fontSize": 11.5, "baseline": "alphabetic", "dy": -2.5, "color": "#1a1a1a"},
           "encoding": {"x": {"field": "c1", "type": "nominal", "bandPosition": 1}, "y": {"field": "y", "type": "quantitative"}, "text": {"field": "label"}}}
        ]}
      ]},
      {"spacing": 18, "vconcat": [
        {"width": 122, "height": 119, "title": {"text": "IL-1RA"}, "layer": [
          {"data": {"name": "boxes"}, "transform": [{"filter": "datum.panel === 'IL-1RA'"}], "mark": {"type": "rule", "color": "#666666", "strokeWidth": 0.9},
           "encoding": {"x": {"field": "cluster", "type": "nominal", "title": null, "scale": {"domain": ["clus1", "clus2", "clus3", "clus4"], "paddingInner": 0, "paddingOuter": 0}, "axis": {"labels": false}},
                        "y": {"field": "lower", "type": "quantitative", "title": null, "scale": {"domain": [4.2, 51], "nice": false, "zero": false}, "axis": {"values": [10, 20, 30, 40, 50], "tickCount": 10, "format": "d", "minExtent": 35, "maxExtent": 35}},
                        "y2": {"field": "upper"}}},
          {"data": {"name": "boxes"}, "transform": [{"filter": "datum.panel === 'IL-1RA'"}, {"fold": ["lower", "upper"], "as": ["end", "cap"]}], "mark": {"type": "tick", "color": "#666666", "size": 13, "thickness": 0.9},
           "encoding": {"x": {"field": "cluster", "type": "nominal"}, "y": {"field": "cap", "type": "quantitative"}}},
          {"data": {"name": "boxes"}, "transform": [{"filter": "datum.panel === 'IL-1RA'"}], "mark": {"type": "bar", "width": {"band": 0.85}, "stroke": "#555555", "strokeWidth": 0.8},
           "encoding": {"x": {"field": "cluster", "type": "nominal"}, "y": {"field": "q1", "type": "quantitative"}, "y2": {"field": "q3"},
                        "fill": {"field": "cluster", "type": "nominal", "scale": {"domain": ["clus1", "clus2", "clus3", "clus4"], "range": ["#9ECBF5", "#DFC995", "#EE8D8D", "#D4D4D4"]}, "legend": null}}},
          {"data": {"name": "boxes"}, "transform": [{"filter": "datum.panel === 'IL-1RA'"}], "mark": {"type": "tick", "color": "#333333", "size": 26, "thickness": 1.2},
           "encoding": {"x": {"field": "cluster", "type": "nominal"}, "y": {"field": "median", "type": "quantitative"}}},
          {"data": {"name": "points"}, "transform": [{"filter": "datum.panel === 'IL-1RA'"}], "mark": {"type": "point", "filled": true, "size": 50, "opacity": 0.9, "clip": true},
           "encoding": {"x": {"field": "cluster", "type": "nominal"}, "y": {"field": "value", "type": "quantitative"},
                        "color": {"field": "cluster", "type": "nominal", "scale": {"domain": ["clus1", "clus2", "clus3", "clus4"], "range": ["#2F96FF", "#E1AA36", "#FF1F1F", "#B8B8B8"]}, "legend": null}}},
          {"data": {"name": "pvals"}, "transform": [{"filter": "datum.panel === 'IL-1RA'"}], "mark": {"type": "rule", "color": "#333333", "strokeWidth": 0.8},
           "encoding": {"x": {"field": "c1", "type": "nominal"}, "x2": {"field": "c2"}, "y": {"field": "y", "type": "quantitative"}}},
          {"data": {"name": "pvals"}, "transform": [{"filter": "datum.panel === 'IL-1RA'"}, {"fold": ["c1", "c2"], "as": ["side", "cx"]}], "mark": {"type": "rule", "color": "#333333", "strokeWidth": 0.8},
           "encoding": {"x": {"field": "cx", "type": "nominal"}, "y": {"field": "y", "type": "quantitative"}, "y2": {"field": "ylo"}}},
          {"data": {"name": "pvals"}, "transform": [{"filter": "datum.panel === 'IL-1RA'"}], "mark": {"type": "text", "font": "Liberation Sans", "fontSize": 11.5, "baseline": "alphabetic", "dy": -2.5, "color": "#1a1a1a"},
           "encoding": {"x": {"field": "c1", "type": "nominal", "bandPosition": 1}, "y": {"field": "y", "type": "quantitative"}, "text": {"field": "label"}}}
        ]},
        {"width": 122, "height": 119, "title": {"text": "IP-10"}, "layer": [
          {"data": {"name": "boxes"}, "transform": [{"filter": "datum.panel === 'IP-10'"}], "mark": {"type": "rule", "color": "#666666", "strokeWidth": 0.9},
           "encoding": {"x": {"field": "cluster", "type": "nominal", "title": null, "scale": {"domain": ["clus1", "clus2", "clus3", "clus4"], "paddingInner": 0, "paddingOuter": 0}, "axis": {"labels": true}},
                        "y": {"field": "lower", "type": "quantitative", "title": null, "scale": {"domain": [-738, 16869], "nice": false, "zero": false}, "axis": {"values": [0, 5000, 10000, 15000], "tickCount": 10, "format": "d", "minExtent": 35, "maxExtent": 35}},
                        "y2": {"field": "upper"}}},
          {"data": {"name": "boxes"}, "transform": [{"filter": "datum.panel === 'IP-10'"}, {"fold": ["lower", "upper"], "as": ["end", "cap"]}], "mark": {"type": "tick", "color": "#666666", "size": 13, "thickness": 0.9},
           "encoding": {"x": {"field": "cluster", "type": "nominal"}, "y": {"field": "cap", "type": "quantitative"}}},
          {"data": {"name": "boxes"}, "transform": [{"filter": "datum.panel === 'IP-10'"}], "mark": {"type": "bar", "width": {"band": 0.85}, "stroke": "#555555", "strokeWidth": 0.8},
           "encoding": {"x": {"field": "cluster", "type": "nominal"}, "y": {"field": "q1", "type": "quantitative"}, "y2": {"field": "q3"},
                        "fill": {"field": "cluster", "type": "nominal", "scale": {"domain": ["clus1", "clus2", "clus3", "clus4"], "range": ["#9ECBF5", "#DFC995", "#EE8D8D", "#D4D4D4"]}, "legend": null}}},
          {"data": {"name": "boxes"}, "transform": [{"filter": "datum.panel === 'IP-10'"}], "mark": {"type": "tick", "color": "#333333", "size": 26, "thickness": 1.2},
           "encoding": {"x": {"field": "cluster", "type": "nominal"}, "y": {"field": "median", "type": "quantitative"}}},
          {"data": {"name": "points"}, "transform": [{"filter": "datum.panel === 'IP-10'"}], "mark": {"type": "point", "filled": true, "size": 50, "opacity": 0.9, "clip": true},
           "encoding": {"x": {"field": "cluster", "type": "nominal"}, "y": {"field": "value", "type": "quantitative"},
                        "color": {"field": "cluster", "type": "nominal", "scale": {"domain": ["clus1", "clus2", "clus3", "clus4"], "range": ["#2F96FF", "#E1AA36", "#FF1F1F", "#B8B8B8"]}, "legend": null}}},
          {"data": {"name": "pvals"}, "transform": [{"filter": "datum.panel === 'IP-10'"}], "mark": {"type": "rule", "color": "#333333", "strokeWidth": 0.8},
           "encoding": {"x": {"field": "c1", "type": "nominal"}, "x2": {"field": "c2"}, "y": {"field": "y", "type": "quantitative"}}},
          {"data": {"name": "pvals"}, "transform": [{"filter": "datum.panel === 'IP-10'"}, {"fold": ["c1", "c2"], "as": ["side", "cx"]}], "mark": {"type": "rule", "color": "#333333", "strokeWidth": 0.8},
           "encoding": {"x": {"field": "cx", "type": "nominal"}, "y": {"field": "y", "type": "quantitative"}, "y2": {"field": "ylo"}}},
          {"data": {"name": "pvals"}, "transform": [{"filter": "datum.panel === 'IP-10'"}], "mark": {"type": "text", "font": "Liberation Sans", "fontSize": 11.5, "baseline": "alphabetic", "dy": -2.5, "color": "#1a1a1a"},
           "encoding": {"x": {"field": "c1", "type": "nominal", "bandPosition": 1}, "y": {"field": "y", "type": "quantitative"}, "text": {"field": "label"}}}
        ]}
      ]},
      {"width": 122, "height": 119, "title": {"text": "IL-8"}, "layer": [
          {"data": {"name": "boxes"}, "transform": [{"filter": "datum.panel === 'IL-8'"}], "mark": {"type": "rule", "color": "#666666", "strokeWidth": 0.9},
           "encoding": {"x": {"field": "cluster", "type": "nominal", "title": null, "scale": {"domain": ["clus1", "clus2", "clus3", "clus4"], "paddingInner": 0, "paddingOuter": 0}, "axis": {"labels": true}},
                        "y": {"field": "lower", "type": "quantitative", "title": null, "scale": {"domain": [5.6, 240.8], "nice": false, "zero": false}, "axis": {"values": [50, 100, 150, 200], "tickCount": 10, "format": "d", "minExtent": 35, "maxExtent": 35}},
                        "y2": {"field": "upper"}}},
          {"data": {"name": "boxes"}, "transform": [{"filter": "datum.panel === 'IL-8'"}, {"fold": ["lower", "upper"], "as": ["end", "cap"]}], "mark": {"type": "tick", "color": "#666666", "size": 13, "thickness": 0.9},
           "encoding": {"x": {"field": "cluster", "type": "nominal"}, "y": {"field": "cap", "type": "quantitative"}}},
          {"data": {"name": "boxes"}, "transform": [{"filter": "datum.panel === 'IL-8'"}], "mark": {"type": "bar", "width": {"band": 0.85}, "stroke": "#555555", "strokeWidth": 0.8},
           "encoding": {"x": {"field": "cluster", "type": "nominal"}, "y": {"field": "q1", "type": "quantitative"}, "y2": {"field": "q3"},
                        "fill": {"field": "cluster", "type": "nominal", "scale": {"domain": ["clus1", "clus2", "clus3", "clus4"], "range": ["#9ECBF5", "#DFC995", "#EE8D8D", "#D4D4D4"]}, "legend": null}}},
          {"data": {"name": "boxes"}, "transform": [{"filter": "datum.panel === 'IL-8'"}], "mark": {"type": "tick", "color": "#333333", "size": 26, "thickness": 1.2},
           "encoding": {"x": {"field": "cluster", "type": "nominal"}, "y": {"field": "median", "type": "quantitative"}}},
          {"data": {"name": "points"}, "transform": [{"filter": "datum.panel === 'IL-8'"}], "mark": {"type": "point", "filled": true, "size": 50, "opacity": 0.9, "clip": true},
           "encoding": {"x": {"field": "cluster", "type": "nominal"}, "y": {"field": "value", "type": "quantitative"},
                        "color": {"field": "cluster", "type": "nominal", "scale": {"domain": ["clus1", "clus2", "clus3", "clus4"], "range": ["#2F96FF", "#E1AA36", "#FF1F1F", "#B8B8B8"]}, "legend": null}}},
          {"data": {"name": "pvals"}, "transform": [{"filter": "datum.panel === 'IL-8'"}], "mark": {"type": "rule", "color": "#333333", "strokeWidth": 0.8},
           "encoding": {"x": {"field": "c1", "type": "nominal"}, "x2": {"field": "c2"}, "y": {"field": "y", "type": "quantitative"}}},
          {"data": {"name": "pvals"}, "transform": [{"filter": "datum.panel === 'IL-8'"}, {"fold": ["c1", "c2"], "as": ["side", "cx"]}], "mark": {"type": "rule", "color": "#333333", "strokeWidth": 0.8},
           "encoding": {"x": {"field": "cx", "type": "nominal"}, "y": {"field": "y", "type": "quantitative"}, "y2": {"field": "ylo"}}},
          {"data": {"name": "pvals"}, "transform": [{"filter": "datum.panel === 'IL-8'"}], "mark": {"type": "text", "font": "Liberation Sans", "fontSize": 11.5, "baseline": "alphabetic", "dy": -2.5, "color": "#1a1a1a"},
           "encoding": {"x": {"field": "c1", "type": "nominal", "bandPosition": 1}, "y": {"field": "y", "type": "quantitative"}, "text": {"field": "label"}}}
      ]}
    ]
  }
]
}
